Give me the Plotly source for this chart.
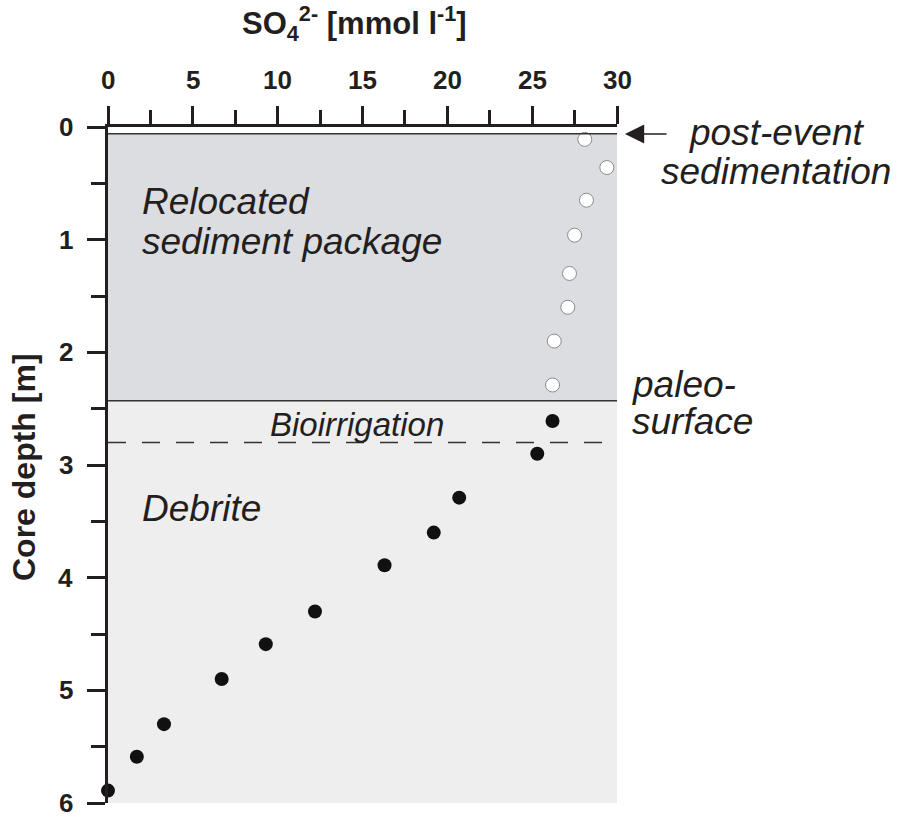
import plotly.graph_objects as go

# ---- data ----
open_so4 = [28.1, 29.4, 28.2, 27.5, 27.2, 27.1, 26.3, 26.2]
open_depth = [0.11, 0.36, 0.65, 0.96, 1.30, 1.60, 1.90, 2.29]
fill_so4 = [26.2, 25.3, 20.7, 19.2, 16.3, 12.2, 9.3, 6.7, 3.3, 1.7, 0.0]
fill_depth = [2.61, 2.90, 3.29, 3.60, 3.89, 4.30, 4.59, 4.90, 5.30, 5.59, 5.89]
x_ticks = [0, 5, 10, 15, 20, 25, 30]
y_ticks = [0, 1, 2, 3, 4, 5, 6]
post_event_depth = 0.06
paleo_surface_depth = 2.43
bioirrigation_depth = 2.80

W, H = 898, 817
L, R, T, B = 108, 617, 127, 803
FONT = "Liberation Sans, Arial, sans-serif"
INK = "#231f20"


def px(x):
    return (x - L) / (R - L)


def py(y):
    return (B - y) / (B - T)


fig = go.Figure()

fig.add_trace(go.Scatter(
    x=open_so4, y=open_depth, mode="markers", cliponaxis=False,
    marker=dict(size=14, color="white", line=dict(color="#8a8a8a", width=1)),
    showlegend=False, hoverinfo="skip"))
fig.add_trace(go.Scatter(
    x=fill_so4, y=fill_depth, mode="markers", cliponaxis=False,
    marker=dict(size=14, color="#111111", line=dict(width=0)),
    showlegend=False, hoverinfo="skip"))

shapes = [
    dict(type="rect", xref="x", yref="y", x0=0, x1=30, y0=post_event_depth,
         y1=paleo_surface_depth, fillcolor="#dcdde0", line=dict(width=0), layer="below"),
    dict(type="rect", xref="x", yref="y", x0=0, x1=30, y0=paleo_surface_depth,
         y1=6, fillcolor="#eeeeee", line=dict(width=0), layer="below"),
    dict(type="line", xref="x", yref="y", x0=0, x1=30, y0=post_event_depth,
         y1=post_event_depth, line=dict(color="#333333", width=1.5)),
    dict(type="line", xref="x", yref="y", x0=0, x1=30, y0=paleo_surface_depth,
         y1=paleo_surface_depth, line=dict(color="#333333", width=1.5)),
    dict(type="line", xref="x", yref="y", x0=0, x1=29.2, y0=bioirrigation_depth,
         y1=bioirrigation_depth, line=dict(color="#333333", width=1.5, dash="18px,16px")),
]

ann = []


def text(x, y, s, size, italic=True, bold=False, xanchor="left", yanchor="middle", angle=0):
    ann.append(dict(
        x=px(x), y=py(y), xref="paper", yref="paper", text=s, showarrow=False,
        xanchor=xanchor, yanchor=yanchor, textangle=angle,
        font=dict(family=FONT, size=size, color=INK,
                  style="italic" if italic else "normal",
                  weight="bold" if bold else "normal")))


text(140, 202, "Relocated", 37)
text(140, 241, "sediment package", 37)
text(140, 508, "Debrite", 37)
text(357, 424, "Bioirrigation", 33, xanchor="center")
text(776, 132, "post-event", 37, xanchor="center")
text(776, 172, "sedimentation", 37, xanchor="center")
text(630, 385, "paleo-", 37)
text(630, 422, "surface", 37)
text(354, 23, "SO<sub>4</sub><sup>2-</sup> [mmol l<sup>-1</sup>]", 31, italic=False, bold=True,
     xanchor="center")
text(24, 467, "Core depth [m]", 32, italic=False, bold=True, xanchor="center", angle=-90)

# tick labels (drawn as annotations positioned on the axes' own scales)
for v in x_ticks:
    ann.append(dict(x=v, xref="x", y=py(80), yref="paper", text=str(v), showarrow=False,
                    xanchor="center", yanchor="middle",
                    font=dict(family=FONT, size=26, color=INK, weight="bold")))
for v in y_ticks:
    ann.append(dict(x=px(75), xref="paper", y=v, yref="y", text=str(v), showarrow=False,
                    xanchor="right", yanchor="middle",
                    font=dict(family=FONT, size=26, color=INK, weight="bold")))

# arrow
ann.append(dict(x=px(625), y=py(134), ax=43, ay=0, xref="paper", yref="paper",
                axref="pixel", ayref="pixel", text="", showarrow=True, arrowhead=2,
                arrowsize=2.4, arrowwidth=1.6, arrowcolor=INK))

fig.update_layout(
    width=W, height=H, margin=dict(l=L, r=W - R, t=T, b=H - B, pad=0),
    paper_bgcolor="white", plot_bgcolor="white",
    shapes=shapes, annotations=ann,
    xaxis=dict(range=[0, 30], side="top", tickvals=x_ticks, ticks="outside", ticklen=18,
               tickwidth=3, tickcolor=INK, showline=True, linewidth=3, linecolor=INK,
               showgrid=False, zeroline=False, showticklabels=False,
               minor=dict(dtick=2.5, ticks="outside", ticklen=14, tickwidth=3, tickcolor=INK,
                          showgrid=False)),
    yaxis=dict(range=[6, 0], tickvals=y_ticks, ticks="outside", ticklen=18, tickwidth=3,
               tickcolor=INK, showline=True, linewidth=3, linecolor=INK, showgrid=False,
               zeroline=False, showticklabels=False,
               minor=dict(dtick=0.5, ticks="outside", ticklen=14, tickwidth=3, tickcolor=INK,
                          showgrid=False)),
)

fig.write_html("out.html")
